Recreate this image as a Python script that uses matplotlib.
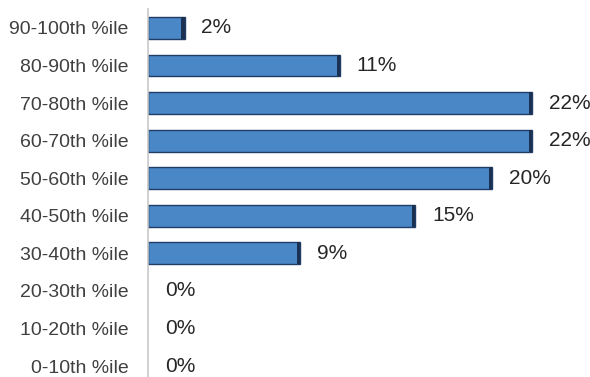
import matplotlib.pyplot as plt

categories = ["90-100th %ile", "80-90th %ile", "70-80th %ile", "60-70th %ile",
              "50-60th %ile", "40-50th %ile", "30-40th %ile", "20-30th %ile",
              "10-20th %ile", "0-10th %ile"]
values = [2.1, 11.0, 22.0, 22.0, 19.7, 15.3, 8.7, 0, 0, 0]
labels = ["2%", "11%", "22%", "22%", "20%", "15%", "9%", "0%", "0%", "0%"]

plt.rcParams['font.family'] = ['Liberation Sans', 'DejaVu Sans']

fig = plt.figure(figsize=(5.9, 3.77), dpi=100)
ax = fig.add_axes([0.251, -0.021, 0.74, 0.997])

y = list(range(len(categories)))
# main bars, with a darker cap on the right end for the bevel look
edges = ["#1f3d66" if v > 0 else "none" for v in values]
ax.barh(y, values, height=0.58, color="#4a87c6", edgecolor=edges, linewidth=1.0)
caps = [min(v, 0.2) for v in values]
ax.barh(y, caps, left=[v - c for v, c in zip(values, caps)], height=0.58,
        color="#1a3152", linewidth=0)
for yi, v, lab in zip(y, values, labels):
    ax.text(v + 0.95, yi, lab, va="center", ha="left", fontsize=15,
            color="#262626")

ax.set_yticks(y)
ax.set_yticklabels(categories, fontsize=14, color="#404040")
ax.set_ylim(len(categories) - 0.5, -0.5)
ax.set_xlim(0, 25)
ax.set_xticks([])
ax.tick_params(axis="y", length=0, pad=14)
for s in ["top", "right", "bottom"]:
    ax.spines[s].set_visible(False)
ax.spines["left"].set_color("#c8c8c8")
ax.spines["left"].set_linewidth(1.2)

fig.savefig("out.png", dpi=100)
